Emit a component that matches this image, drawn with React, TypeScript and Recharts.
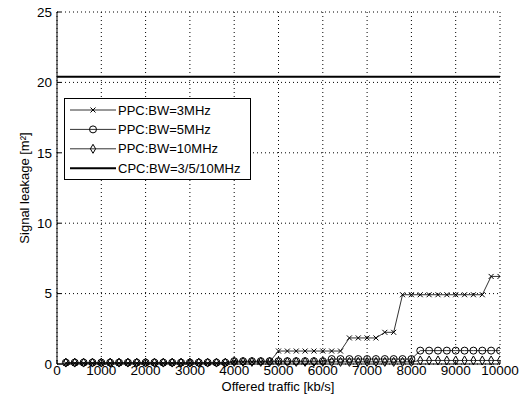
import { CartesianGrid, Line, LineChart, XAxis, YAxis } from "recharts";

// offered traffic, kb/s
const TRAFFIC = [
  200, 400, 600, 800, 1000, 1200, 1400, 1600, 1800, 2000,
  2200, 2400, 2600, 2800, 3000, 3200, 3400, 3600, 3800, 4000,
  4200, 4400, 4600, 4800, 5000, 5200, 5400, 5600, 5800, 6000,
  6200, 6400, 6600, 6800, 7000, 7200, 7400, 7600, 7800, 8000,
  8200, 8400, 8600, 8800, 9000, 9200, 9400, 9600, 9800, 10000,
];

const PPC_3MHZ = [
  0.05, 0.05, 0.05, 0.05, 0.05, 0.05, 0.05, 0.05, 0.05, 0.05,
  0.05, 0.05, 0.05, 0.05, 0.05, 0.05, 0.05, 0.05, 0.05, 0.15,
  0.15, 0.15, 0.15, 0.15, 0.92, 0.92, 0.92, 0.92, 0.92, 0.92,
  0.92, 0.92, 1.85, 1.85, 1.85, 1.85, 2.25, 2.25, 4.92, 4.92,
  4.92, 4.92, 4.92, 4.92, 4.92, 4.92, 4.92, 4.92, 6.22, 6.22,
];

const PPC_5MHZ = [
  0.1, 0.1, 0.1, 0.1, 0.1, 0.1, 0.1, 0.1, 0.1, 0.1,
  0.1, 0.1, 0.1, 0.1, 0.1, 0.1, 0.1, 0.1, 0.1, 0.2,
  0.2, 0.2, 0.2, 0.2, 0.2, 0.2, 0.2, 0.2, 0.2, 0.2,
  0.35, 0.35, 0.35, 0.35, 0.35, 0.35, 0.35, 0.35, 0.35, 0.35,
  0.95, 0.95, 0.95, 0.95, 0.95, 0.95, 0.95, 0.95, 0.95, 0.95,
];

const PPC_10MHZ = [
  0.1, 0.1, 0.1, 0.1, 0.1, 0.1, 0.1, 0.1, 0.1, 0.1,
  0.1, 0.1, 0.1, 0.1, 0.1, 0.1, 0.1, 0.1, 0.1, 0.15,
  0.15, 0.15, 0.15, 0.15, 0.15, 0.15, 0.15, 0.15, 0.15, 0.15,
  0.15, 0.15, 0.15, 0.15, 0.15, 0.15, 0.15, 0.15, 0.15, 0.15,
  0.25, 0.25, 0.25, 0.25, 0.25, 0.25, 0.25, 0.25, 0.25, 0.25,
];

// CPC is flat for every bandwidth
const CPC_X = [0, 10000];
const CPC_LEVEL = [20.4, 20.4];

const X_TICKS = [0, 1000, 2000, 3000, 4000, 5000, 6000, 7000, 8000, 9000, 10000];
const Y_TICKS = [0, 5, 10, 15, 20, 25];

const SERIES_NAMES = ["PPC:BW=3MHz", "PPC:BW=5MHz", "PPC:BW=10MHz", "CPC:BW=3/5/10MHz"];

const data = TRAFFIC.map((x, i) => ({
  x,
  bw3: PPC_3MHZ[i],
  bw5: PPC_5MHZ[i],
  bw10: PPC_10MHZ[i],
}));

const cpcData = CPC_X.map((x, i) => ({ x, cpc: CPC_LEVEL[i] }));

const FONT = "'Liberation Sans', Arial, sans-serif";

function Cross({ cx, cy }: { cx: number; cy: number }) {
  const s = 2.5;
  return (
    <g>
      <line x1={cx - s} y1={cy - s} x2={cx + s} y2={cy + s} stroke="#000" strokeWidth={1} />
      <line x1={cx - s} y1={cy + s} x2={cx + s} y2={cy - s} stroke="#000" strokeWidth={1} />
    </g>
  );
}

function Circle({ cx, cy }: { cx: number; cy: number }) {
  return <circle cx={cx} cy={cy} r={3.5} fill="none" stroke="#000" strokeWidth={1} />;
}

function Diamond({ cx, cy }: { cx: number; cy: number }) {
  return (
    <path
      d={`M${cx},${cy - 4.5} L${cx + 2.6},${cy} L${cx},${cy + 4.5} L${cx - 2.6},${cy} Z`}
      fill="none"
      stroke="#000"
      strokeWidth={1}
    />
  );
}

function dotWith(Shape: (p: { cx: number; cy: number }) => JSX.Element) {
  return (props: any) => {
    const { cx, cy, index } = props;
    if (cx == null || cy == null || Number.isNaN(cy)) return <g key={`d-${index}`} />;
    return (
      <g key={`d-${index}`}>
        <Shape cx={cx} cy={cy} />
      </g>
    );
  };
}

function LegendBox() {
  const rows = [
    { name: SERIES_NAMES[0], marker: Cross, width: 1 },
    { name: SERIES_NAMES[1], marker: Circle, width: 1 },
    { name: SERIES_NAMES[2], marker: Diamond, width: 1 },
    { name: SERIES_NAMES[3], marker: null, width: 2 },
  ];
  return (
    <svg width={187} height={82} style={{ display: "block" }}>
      <rect x={0.5} y={0.5} width={186} height={81} fill="#fff" stroke="#000" strokeWidth={1} />
      {rows.map((r, i) => {
        const y = 12 + i * 19.4;
        const M = r.marker;
        return (
          <g key={r.name}>
            <line x1={6} y1={y} x2={52} y2={y} stroke={i === 3 ? "#000" : "#333"} strokeWidth={r.width} />
            {M && <M cx={29} cy={y} />}
            <text x={54} y={y + 4.6} fontSize={13} fontFamily={FONT} fill="#000">
              {r.name}
            </text>
          </g>
        );
      })}
    </svg>
  );
}

export default function App() {
  return (
    <div style={{ position: "absolute", left: 0, top: 0, width: 528, height: 402, background: "#fff" }}>
      <LineChart
        width={528}
        height={402}
        data={data}
        margin={{ top: 12, right: 28, left: 0, bottom: 0 }}
      >
        <CartesianGrid stroke="#000" strokeDasharray="1 3" />
        <XAxis
          dataKey="x"
          type="number"
          domain={[0, 10000]}
          ticks={X_TICKS}
          height={38}
          axisLine={{ stroke: "#000" }}
          tickLine={{ stroke: "#000" }}
          tickSize={-4}
          tickMargin={5}
          interval={0}
          tick={{ fill: "#000", fontSize: 13.5, fontFamily: FONT }}
          allowDataOverflow
          label={{
            content: () => (
              <text x={278} y={391} textAnchor="middle" fontSize={13} fontFamily={FONT} fill="#000">
                Offered traffic [kb/s]
              </text>
            ),
          }}
        />
        <YAxis
          type="number"
          domain={[0, 25]}
          ticks={Y_TICKS}
          width={57}
          axisLine={{ stroke: "#000" }}
          tickLine={{ stroke: "#000" }}
          tickSize={-4}
          tickMargin={9}
          interval={0}
          tick={{ fill: "#000", fontSize: 13.5, fontFamily: FONT }}
          label={{
            content: () => (
              <text
                x={29}
                y={188}
                transform="rotate(-90 29 188)"
                textAnchor="middle"
                fontSize={13}
                fontFamily={FONT}
                fill="#000"
              >
                Signal leakage [m²]
              </text>
            ),
          }}
        />
        <Line
          data={cpcData}
          dataKey="cpc"
          name={SERIES_NAMES[3]}
          stroke="#000"
          strokeWidth={2}
          dot={false}
          isAnimationActive={false}
        />
        <Line
          dataKey="bw10"
          name={SERIES_NAMES[2]}
          stroke="#333"
          strokeWidth={1}
          dot={dotWith(Diamond)}
          isAnimationActive={false}
        />
        <Line
          dataKey="bw5"
          name={SERIES_NAMES[1]}
          stroke="#333"
          strokeWidth={1}
          dot={dotWith(Circle)}
          isAnimationActive={false}
        />
        <Line
          dataKey="bw3"
          name={SERIES_NAMES[0]}
          stroke="#333"
          strokeWidth={1}
          dot={dotWith(Cross)}
          isAnimationActive={false}
        />
      </LineChart>
      <div style={{ position: "absolute", left: 64, top: 98 }}>
        <LegendBox />
      </div>
    </div>
  );
}
